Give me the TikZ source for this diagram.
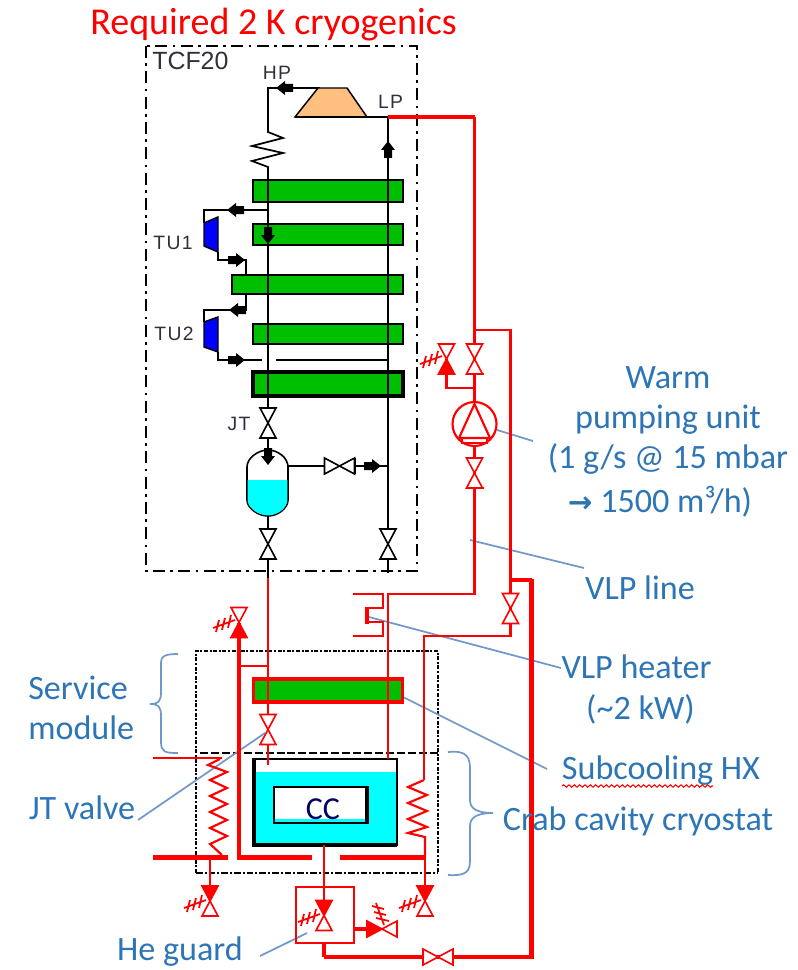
\documentclass[tikz,border=0pt]{standalone}
\usepackage{fontspec}
\setmainfont{Carlito}
\newfontfamily\arialf{Liberation Sans}
\usetikzlibrary{decorations.pathmorphing,decorations.pathreplacing}
\definecolor{hxgreen}{HTML}{00BE00}
\definecolor{cyanliq}{HTML}{00FFFF}
\definecolor{labelblue}{HTML}{2E75B6}
\definecolor{leader}{HTML}{7098C8}
\definecolor{compor}{HTML}{FFC07F}
\definecolor{pipered}{HTML}{FF0000}
\definecolor{tagtext}{HTML}{30303C}
% valve: centre, rotation, colour, fill of first (upper) cone, fill of second (lower) cone
\newcommand{\Vlv}[5]{\begin{scope}[shift={(#1)},rotate=#2]
 \draw[#3,line width=1.2pt,fill=#4] (-8,-15)--(8,-15)--(0,0)--cycle;
 \draw[#3,line width=1.2pt,fill=#5] (-8,15)--(8,15)--(0,0)--cycle;
 \end{scope}}
\newcommand{\Hatch}[2]{\begin{scope}[shift={(#1)},rotate=#2]
 \draw[pipered,line width=1.3pt] (-22,6)--(0,-2)
  (-19,10)--(-16,-2) (-13,8)--(-10,-4) (-7,6)--(-4,-7);
 \end{scope}}
\newcommand{\Flow}[2]{\begin{scope}[shift={(#1)},rotate=#2]
 \fill[black] (-8,-4) rectangle (0,4) (0,-7)--(9,0)--(0,7)--cycle;
 \end{scope}}
\tikzset{
 pipe/.style={black,line width=1.2pt},
 rthin/.style={pipered,line width=1.6pt},
 rmid/.style={pipered,line width=2.4pt},
 rthick/.style={pipered,line width=3.4pt},
 lead/.style={leader,line width=1.3pt},
 tag/.style={font=\arialf\fontsize{14.5}{16}\selectfont,text=tagtext,inner sep=0pt},
 lbl/.style={font=\fontsize{25.6}{30}\selectfont,text=labelblue,inner sep=0pt,align=center},
}
\begin{document}
\begin{tikzpicture}[x=0.75pt,y=-0.75pt]
\useasboundingbox (0,0) rectangle (798,970);
% named junctions
\coordinate (hpL) at (268,88); \coordinate (hpR) at (320,88);
\coordinate (lpL) at (295,117); \coordinate (lpJ) at (388,117); \coordinate (lpR) at (474.5,117);
\coordinate (zigT) at (268,132); \coordinate (zigB) at (268,167);
\coordinate (jtv) at (268,423); \coordinate (ves) at (268,483);
\coordinate (v3) at (268,544); \coordinate (v4) at (388,544);
\coordinate (sv) at (339.5,466);
\coordinate (bEnd) at (268,578); \coordinate (rEnd) at (388,573);
\coordinate (pump) at (474.5,424);
\coordinate (v5) at (474.5,359); \coordinate (v6) at (446.5,359);
\coordinate (v7) at (474.5,473); \coordinate (v8) at (510.5,608.5);
\coordinate (v9) at (239,622.5); \coordinate (v10) at (268,729.5);
\coordinate (v11) at (210,901); \coordinate (v12) at (324,915.5);
\coordinate (v13) at (425,901); \coordinate (v14) at (382,929); \coordinate (v15) at (438,957);
% dash-dot boxes
\draw[black,line width=1.2pt,dash pattern=on 9pt off 4pt on 2pt off 4pt] (146,46) rectangle (417,571);
\draw[black,line width=1.6pt,dash pattern=on 3pt off 1.2pt on 1.5pt off 1.2pt] (196,873)--(196,651)--(438,651)--(438,873);
\draw[black,line width=1.1pt,dash pattern=on 5pt off 1.5pt on 1.5pt off 1.5pt] (196,873)--(438,873);
\draw[black,line width=1.2pt,dash pattern=on 6pt off 2.2pt] (200,753)--(438,753);
% leaders (beneath the pipes)
\draw[lead] (497,430)--(533,441);
\draw[lead] (470,540)--(584,568);
\draw[lead] (369,617)--(561,668);
\draw[lead] (403,697)--(547,769);
\draw[lead] (138,820)--(265,733);
\draw[lead] (260,956)--(307,933);
\draw[lead] (178,654) .. controls (160,654) and (161,658) .. (161,668) -- (161,692) .. controls (161,702) and (158,704) .. (150,704) .. controls (158,704) and (161,706) .. (161,716) -- (161,742) .. controls (161,752) and (165,753) .. (178,753);
\draw[lead] (448,752) .. controls (468,750) and (470,758) .. (470,770) -- (470,800) .. controls (470,808) and (476,813) .. (493,813) .. controls (476,813) and (470,818) .. (470,826) -- (470,860) .. controls (470,872) and (466,876) .. (448,875);
% black process lines
\draw[pipe,line width=1.3pt] (hpR)--(hpL)--(zigT)--(283,138)--(252,146)--(283,153)--(252,161)--(zigB)--(jtv);
\draw[pipe] (jtv)--(ves)--(v3)--(bEnd);
\draw[pipe] (lpJ)--(v4)--(rEnd);
\draw[pipe] (268,210)--(204,210)--(204,223);
\draw[pipe] (218,252)--(218,260)--(246,260)--(246,310)--(204,310)--(204,322);
\draw[pipe] (218,352)--(218,360)--(262,360);
\draw[pipe] (276,360)--(388,360);
\draw[pipe] (288,466)--(sv)--(388,466);
% compressor
\draw[black,line width=1.1pt,fill=compor] (lpL)--(318,88)--(347,88)--(367,117)--cycle;
\draw[black,line width=1.9pt] (lpL)--(lpJ);
% heat exchangers
\foreach \nm/\xa/\ya/\yb/\lw in {a/253/180/202/2.2pt,b/253/224/245/1.4pt,c/232/275/294/1.2pt,d/253/324/344/1.4pt,e/253/372/396/3pt}{
 \draw[draw=black,fill=hxgreen,line width=\lw] (\xa,\ya) rectangle (403,\yb);
}
\draw[pipe] (268,180)--(268,396) (388,180)--(388,396);
% turbines
\draw[black,line width=1.1pt,fill=blue] (204,223)--(218,217)--(218,252)--(204,246)--cycle;
\draw[black,line width=1.1pt,fill=blue] (204,322)--(218,317)--(218,352)--(204,347)--cycle;
% flow arrows
\Flow{285,88}{180}\Flow{388,150}{90}\Flow{236,210}{180}\Flow{268,235}{-90}
\Flow{236,260}{0}\Flow{238,310}{180}\Flow{236,360}{0}\Flow{372,466}{0}
% valves, black
\Vlv{jtv}{0}{black}{white}{white}
\Vlv{v3}{0}{black}{white}{white}
\Vlv{v4}{0}{black}{white}{white}
\Vlv{sv}{90}{black}{white}{white}
\draw[black,line width=2pt] (355,458)--(355,474);
% vessel
\draw[pipe,line width=1.2pt,fill=white] (247,467) .. controls (247,458) and (258,450) .. (268,450) .. controls (278,450) and (288,458) .. (288,467) -- (288,500) .. controls (288,508) and (278,516) .. (268,516) .. controls (258,516) and (247,508) .. (247,500) -- cycle;
\fill[cyanliq] (247.6,480) -- (287.4,480) -- (287.4,500) .. controls (287.4,507.5) and (278,515.4) .. (268,515.4) .. controls (258,515.4) and (247.6,507.5) .. (247.6,500) -- cycle;
\Flow{268,456}{-90}
% red warm side
\draw[rmid] (lpJ)--(lpR);
\draw[rthin,line width=1.8pt] (lpR)--(v5)--(pump)--(v7)--(474.5,594)--(388,594)--(388,758);
\draw[rthin] (474.5,330)--(510.5,330)--(510.5,636)--(424,636)--(424,780);
\draw[rthin] (474.5,388)--(446.5,388)--(v6);
\draw[rthin] (bEnd)--(268,678);
\draw[rthin] (268,703)--(v10)--(268,765);
\draw[rthin] (239,666)--(268,666);
\draw[rmid] (510.5,580)--(531.7,580);
\draw[rthick] (531.7,578.8)--(531.7,957)--(v15)--(324,957);
\draw[rmid] (324,957)--(324,943);
\draw[rthick] (v9)--(239,857.5)--(312,857.5);
\draw[rthick] (340,857.5)--(425,857.5);
\draw[rthick] (153,857.5)--(228,857.5);
\draw[rthin] (153,758)--(222,758);
\draw[rthin] (210,857)--(v11);
\draw[rthin] (424,780)--(408,787)--(427,795)--(408,803)--(427,811)--(408,819)--(427,827)--(408,833)--(425,837)--(425,857);
\draw[rthin] (425,857)--(v13);
\draw[rthin] (220,759)--(208,765)--(227,772)--(210,780)--(227,788)--(210,796)--(227,804)--(210,812)--(227,820)--(210,828)--(227,836)--(210,844)--(222,855);
% heater
\draw[rthin] (353,594)--(383,594)--(383,608)--(367,608);
\draw[rthin] (367,622)--(383,622)--(383,636)--(353,636);
\draw[rthick] (367,607)--(367,624);
% pump
\draw[rthin,fill=white] (pump) circle (22);
\draw[rthin] (474.5,404)--(459,438)--(490,438)--cycle;
\draw[rthin] (462,438) rectangle (487,443);
% red valves
\Vlv{v5}{0}{pipered}{white}{white}
\Vlv{v6}{0}{pipered}{white}{pipered}
\Hatch{442,358}{0}
\Vlv{v7}{0}{pipered}{white}{white}
\draw[pipered,line width=2pt] (v5)+(-9,15)--+(9,15);
\draw[pipered,line width=2pt] (v7)+(-9,15)--+(9,15);
\Vlv{v8}{0}{pipered}{white}{white}
\Vlv{v9}{0}{pipered}{white}{pipered}
\Hatch{235,622}{0}
\Vlv{v10}{0}{pipered}{white}{white}
% subcooling HX
\draw[draw=pipered,fill=hxgreen,line width=2.6pt] (253.5,679) rectangle (402.5,702);
\draw[rthin] (268,679)--(268,702) (388,679)--(388,702);
% CC vessel
\fill[white] (253,759) rectangle (397,845);
\fill[cyanliq] (253,772) rectangle (397,845);
\draw[black,line width=1pt] (253,759) rectangle (397,845);
\draw[black,line width=3pt] (254,759)--(254,844.5)--(397,844.5);
\draw[rthin] (268,745)--(268,765);
\draw[rthin] (388,752)--(388,759);
\fill[white] (274,787) rectangle (368,819);
\fill[cyanliq] (274,819) rectangle (368,823);
\draw[black,line width=1.4pt] (274,787) rectangle (368,823);
\draw[black,line width=3pt] (367,787)--(367,823);
\node[font=\fontsize{24}{26}\selectfont,text=black!60!blue,inner sep=0pt] (cc) at (323,809) {CC};
% He guard
\draw[rthin,line width=1.8pt] (324,845)--(v12);
\draw[rthin,line width=1.6pt] (296,887) rectangle (354,943);
\draw[rmid] (354,929)--(367,929);
\Vlv{v11}{180}{pipered}{white}{pipered}
\Vlv{v12}{180}{pipered}{white}{pipered}
\Vlv{v13}{180}{pipered}{white}{pipered}
\Hatch{206,902}{0}
\Hatch{320,916}{0}
\Hatch{421,902}{0}
\Vlv{v14}{90}{pipered}{pipered}{white}
\Hatch{382,925}{-90}
\Vlv{v15}{90}{pipered}{white}{white}
% title and tags
\node[font=\fontsize{28.5}{32}\selectfont,text=pipered,inner sep=0pt] (title) at (273.5,25) {Required 2 K cryogenics};
\node[tag,font=\arialf\fontsize{18.7}{20}\selectfont,anchor=west] (tcf) at (152,61) {TCF20};
\node[tag] (hp) at (277,73) {H\kern1pt P};
\node[tag] (lp) at (390.5,102) {L\kern1pt P};
\node[tag] (tu1) at (173,243) {T\kern1pt U\kern1pt 1};
\node[tag] (tu2) at (174,334) {T\kern1pt U\kern1pt 2};
\node[tag] (jt) at (239,424) {J\kern1pt T};
% blue labels
\node[lbl] (warm) at (668,420.5) {Warm\\pumping unit\\(1 g/s @ 15 mbar};
\node[lbl] (warm2) at (660,502) {{\fontspec{DejaVu Sans}\bfseries\fontsize{22}{30}\selectfont →} 1500 m³/h)};
\node[lbl] (vlpl) at (640,588) {VLP line};
\node[lbl] (vlph) at (636.5,667) {VLP heater};
\node[lbl] (vlpk) at (640.5,709) {(\textasciitilde 2 kW)};
\node[lbl] (sub) at (661,771) {Subcooling HX};
\draw[pipered,line width=0.8pt,decorate,decoration={snake,amplitude=0.9pt,segment length=4pt}] (562,786)--(713,786);
\node[lbl] (crab) at (638,821) {Crab cavity cryostat};
\node[lbl,align=left,anchor=west] (svc) at (28,708) {Service\\module};
\node[lbl] (jtl) at (82,808) {JT valve};
\node[lbl] (heg) at (180,952) {He guard};
\end{tikzpicture}
\end{document}
